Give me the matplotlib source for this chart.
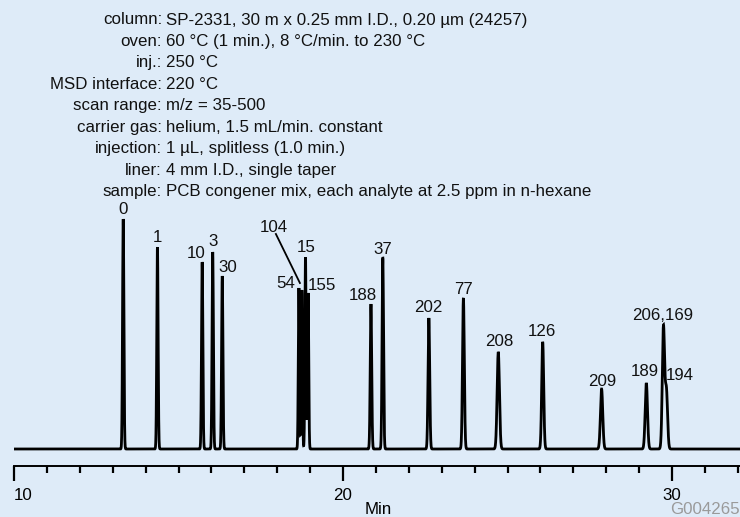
import numpy as np
import matplotlib
matplotlib.use("Agg")
import matplotlib.pyplot as plt

plt.rcParams['font.family'] = ['Liberation Sans', 'DejaVu Sans']

# ---- data ----
peak_names = ["0", "1", "10", "3", "30", "54", "104", "15", "155", "188", "37",
              "202", "77", "208", "126", "209", "189", "206,169", "194"]
peak_times = [13.32, 14.36, 15.72, 16.04, 16.33, 18.66, 18.75, 18.86, 18.94, 20.85, 21.21,
              22.61, 23.66, 24.72, 26.07, 27.86, 29.22, 29.74, 29.83]
peak_heights = [230, 202, 187, 197, 173, 161, 159, 192, 156, 145, 191,
                131, 151, 97, 107, 60, 66, 122, 58]
peak_sigmas = [0.020, 0.020, 0.020, 0.020, 0.020, 0.018, 0.018, 0.018, 0.018, 0.022, 0.022,
               0.025, 0.027, 0.035, 0.030, 0.035, 0.035, 0.035, 0.035]

header_keys = ["column:", "oven:", "inj.:", "MSD interface:", "scan range:", "carrier gas:",
               "injection:", "liner:", "sample:"]
header_vals = ["SP-2331, 30 m x 0.25 mm I.D., 0.20 µm (24257)",
               "60 °C (1 min.), 8 °C/min. to 230 °C",
               "250 °C",
               "220 °C",
               "m/z = 35-500",
               "helium, 1.5 mL/min. constant",
               "1 µL, splitless (1.0 min.)",
               "4 mm I.D., single taper",
               "PCB congener mix, each analyte at 2.5 ppm in n-hexane"]

major_ticks = [10, 20, 30]
minor_ticks = list(range(10, 33))

# ---- layout: label centres (min, px above baseline) ----
label_pos = {
    "0": (13.31, 239), "1": (14.36, 212), "10": (15.55, 196), "3": (16.06, 207),
    "30": (16.50, 182), "104": (17.90, 221), "15": (18.88, 201), "54": (18.27, 166),
    "155": (19.35, 164), "188": (20.61, 153), "37": (21.20, 199), "202": (22.59, 142),
    "77": (23.66, 160), "208": (24.74, 108), "126": (26.06, 117), "209": (27.88, 68),
    "189": (29.18, 77), "206,169": (29.71, 133), "194": (30.24, 73),
}

W, H = 740, 517
fig = plt.figure(figsize=(W / 100, H / 100), dpi=100)
bg = "#DEEBF8"
fig.patch.set_facecolor(bg)
ax = fig.add_axes([0, 0, 1, 1])
ax.set_facecolor(bg)

px_per_min = 32.9
x0px = 14
xmin = 10 - x0px / px_per_min
xmax = 10 + (W - x0px) / px_per_min
base_px = 449
ax.set_xlim(xmin, xmax)
ax.set_ylim(-(H - base_px), base_px)

t = np.linspace(10.0, xmax, 12000)
sig = np.zeros_like(t)
for t0, h, s in zip(peak_times, peak_heights, peak_sigmas):
    sig += h * np.exp(-0.5 * ((t - t0) / s) ** 2)
ax.plot(t, sig, color="black", lw=2.0, solid_joinstyle="miter", solid_capstyle="butt")

fs = 12.2
for name in peak_names:
    lx, ly = label_pos[name]
    ax.text(lx, ly, name, ha="center", va="center", fontsize=fs, color="#111111")

# leader line for 104
ax.plot([17.96, 18.69], [215, 166], color="black", lw=1.3)

# axis
for s in ["top", "left", "right"]:
    ax.spines[s].set_visible(False)
ax.spines["bottom"].set_position(("data", -(466 - base_px)))
ax.spines["bottom"].set_bounds(10, xmax)
ax.spines["bottom"].set_linewidth(1.4)
ax.set_yticks([])
ax.set_xticks(major_ticks)
ax.set_xticks(minor_ticks, minor=True)
ax.tick_params(axis="x", which="major", direction="out", length=11, width=1.6, pad=4.5, labelsize=fs)
ax.tick_params(axis="x", which="minor", direction="out", length=5, width=1.6)
ax.set_xticklabels([str(v) for v in major_ticks])
ax.get_xticklabels()[0].set_ha("left")

fig.text(378 / W, 1 - 509 / H, "Min", ha="center", va="center", fontsize=fs)
fig.text(1.0, 1 - 509 / H, "G004265", ha="right", va="center", fontsize=fs, color="#9a9a9a")

for i, (k, v) in enumerate(zip(header_keys, header_vals)):
    y = 20 + i * 21.45
    fig.text(162 / W, 1 - y / H, k, ha="right", va="center", fontsize=fs, color="#111111")
    fig.text(166 / W, 1 - y / H, v, ha="left", va="center", fontsize=fs, color="#111111")

fig.savefig("out.png", dpi=100, facecolor=bg)
